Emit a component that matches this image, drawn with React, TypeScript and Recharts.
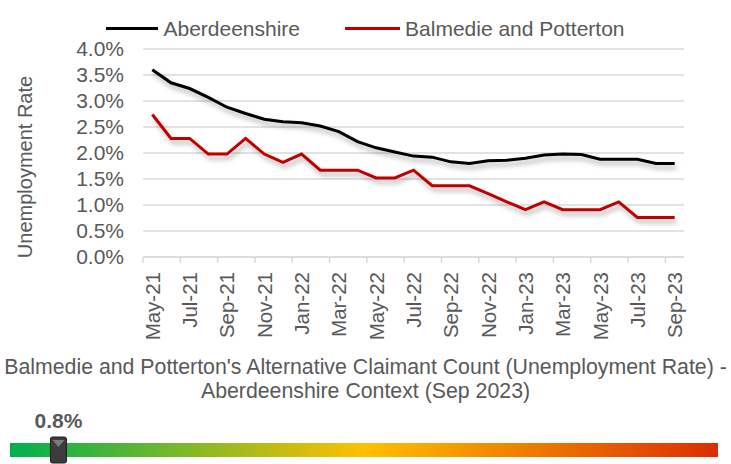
import React from "react";
import { LineChart, Line, XAxis, YAxis, CartesianGrid, Legend, BarChart, Bar, ReferenceDot } from "recharts";

// months shown on the x axis (one point per month)
const months = [
  "May-21", "Jun-21", "Jul-21", "Aug-21", "Sep-21", "Oct-21", "Nov-21", "Dec-21",
  "Jan-22", "Feb-22", "Mar-22", "Apr-22", "May-22", "Jun-22", "Jul-22", "Aug-22",
  "Sep-22", "Oct-22", "Nov-22", "Dec-22", "Jan-23", "Feb-23", "Mar-23", "Apr-23",
  "May-23", "Jun-23", "Jul-23", "Aug-23", "Sep-23",
];

// unemployment rate, %
const aberdeenshire = [
  3.6, 3.35, 3.24, 3.07, 2.88, 2.76, 2.65, 2.6, 2.58, 2.52, 2.41, 2.22, 2.1, 2.02, 1.94,
  1.92, 1.83, 1.8, 1.85, 1.86, 1.9, 1.96, 1.98, 1.97, 1.88, 1.88, 1.88, 1.8, 1.8,
];
const balmedie = [
  2.74, 2.28, 2.28, 1.98, 1.98, 2.28, 1.98, 1.82, 1.98, 1.67, 1.67, 1.67, 1.52, 1.52, 1.67,
  1.37, 1.37, 1.37, 1.22, 1.06, 0.91, 1.06, 0.91, 0.91, 0.91, 1.06, 0.76, 0.76, 0.76,
];

const yTicks = [0, 0.5, 1, 1.5, 2, 2.5, 3, 3.5, 4];
const xTicks = months.map((_, i) => i).filter((i) => i % 2 === 0);

// context gauge (Sep 2023)
const latestValue = 0.76;
const latestLabel = "0.8%";
const gaugeMin = 0.5;
const gaugeMax = 4.3;

const FONT = '"Liberation Sans", Arial, sans-serif';
const GREY = "#595959";
const GRID = "#d9d9d9";

const CHART_W = 731;
const Y_AXIS_W = 143;
const MARGIN_RIGHT = 47;
const PLOT_W = CHART_W - Y_AXIS_W - MARGIN_RIGHT;

const chartData = months.map((m, i) => ({
  idx: i,
  month: m,
  aberdeenshire: aberdeenshire[i],
  balmedie: balmedie[i],
}));

const seriesInfo = [
  { name: "Aberdeenshire", color: "#000000" },
  { name: "Balmedie and Potterton", color: "#c00000" },
];

// tick mark sits on the category boundary, label on the point (Excel style)
const XTick = (props: any) => {
  const { x, y, payload } = props;
  const step = PLOT_W / months.length;
  const tx = x - step / 2;
  const ly = y + 15;
  return (
    <g>
      <line x1={tx} y1={y} x2={tx} y2={y + 6} stroke={GRID} strokeWidth={1.5} />
      <text
        x={x}
        y={ly}
        transform={`rotate(-90 ${x} ${ly})`}
        textAnchor="end"
        dominantBaseline="central"
        fill={GREY}
        fontSize={20.5}
        fontFamily={FONT}
      >
        {months[payload.value]}
      </text>
    </g>
  );
};

const YLabel = (props: any) => {
  const vb = props.viewBox || { x: 0, y: 49, width: 143, height: 208 };
  const cx = vb.x + 25;
  const cy = vb.y + vb.height / 2 + 14;
  return (
    <text
      x={cx}
      y={cy}
      transform={`rotate(-90 ${cx} ${cy})`}
      textAnchor="middle"
      dominantBaseline="central"
      fill={GREY}
      fontSize={20}
      fontFamily={FONT}
    >
      Unemployment Rate
    </text>
  );
};

const LegendContent = () => (
  <div
    style={{
      height: 44,
      paddingTop: 3,
      boxSizing: "border-box",
      display: "flex",
      justifyContent: "center",
      fontFamily: FONT,
      fontSize: 21,
      color: GREY,
      lineHeight: "24px",
    }}
  >
    {seriesInfo.map((s, i) => (
      <div key={s.name} style={{ display: "flex", alignItems: "center", marginLeft: i ? 45 : 0 }}>
        <div style={{ width: i ? 55 : 52, height: 3, background: s.color, marginRight: 5 }} />
        <span>{s.name}</span>
      </div>
    ))}
  </div>
);

const GaugeMarker = (props: any) => {
  const { cx, cy } = props;
  return (
    <g>
      <text
        x={cx}
        y={cy - 30}
        textAnchor="middle"
        dominantBaseline="central"
        fontWeight="bold"
        fontSize={21}
        fontFamily={FONT}
        fill={GREY}
      >
        {latestLabel}
      </text>
      <rect x={cx - 8} y={cy - 13} width={16} height={26} rx={2} fill="#3c3c3c" stroke="#1e1e1e" strokeWidth={1} />
      <path d={`M${cx - 6},${cy - 10} L${cx + 6},${cy - 10} L${cx},${cy - 3} Z`} fill="#7a7a7a" />
    </g>
  );
};

export default function App() {
  return (
    <div style={{ position: "absolute", left: 0, top: 0, width: CHART_W, height: 464, background: "#fff", overflow: "hidden" }}>
      <LineChart
        width={CHART_W}
        height={345}
        data={chartData}
        margin={{ top: 5, right: MARGIN_RIGHT, left: 0, bottom: 0 }}
      >
        <defs>
          <filter id="lineShadow" x="-5%" y="-20%" width="110%" height="160%">
            <feDropShadow dx={2} dy={4} stdDeviation={2.5} floodColor="#000" floodOpacity={0.3} />
          </filter>
        </defs>
        <Legend verticalAlign="top" content={LegendContent} wrapperStyle={{ left: 0, width: CHART_W }} />
        <CartesianGrid vertical={false} stroke={GRID} strokeWidth={1.5} />
        <XAxis
          dataKey="idx"
          type="number"
          domain={[-0.5, months.length - 0.5]}
          ticks={xTicks}
          interval={0}
          height={88}
          tickSize={0}
          tickMargin={0}
          tickLine={false}
          axisLine={{ stroke: GRID, strokeWidth: 1.5 }}
          tick={<XTick />}
        />
        <YAxis
          width={Y_AXIS_W}
          domain={[0, 4]}
          ticks={yTicks}
          interval={0}
          tickFormatter={(v: number) => `${v.toFixed(1)}%`}
          tickSize={0}
          tickMargin={19}
          tickLine={false}
          axisLine={false}
          tick={{ fill: GREY, fontSize: 21, fontFamily: FONT }}
          label={{ content: YLabel }}
        />
        <Line
          type="linear"
          dataKey="aberdeenshire"
          name={seriesInfo[0].name}
          stroke={seriesInfo[0].color}
          strokeWidth={3}
          dot={false}
          filter="url(#lineShadow)"
          isAnimationActive={false}
        />
        <Line
          type="linear"
          dataKey="balmedie"
          name={seriesInfo[1].name}
          stroke={seriesInfo[1].color}
          strokeWidth={3}
          dot={false}
          filter="url(#lineShadow)"
          isAnimationActive={false}
        />
      </LineChart>

      <div
        style={{
          position: "absolute",
          left: 0,
          top: 355,
          width: CHART_W,
          textAlign: "center",
          fontFamily: FONT,
          fontSize: 21.3,
          lineHeight: "24px",
          color: GREY,
          whiteSpace: "nowrap",
        }}
      >
        Balmedie and Potterton's Alternative Claimant Count (Unemployment Rate) -
        <br />
        Aberdeenshire Context (Sep 2023)
      </div>

      <div style={{ position: "absolute", left: 0, top: 404 }}>
        <BarChart
          width={CHART_W}
          height={60}
          layout="vertical"
          data={[{ name: "gauge", max: gaugeMax }]}
          margin={{ top: 32, right: 13, bottom: 0, left: 10 }}
        >
          <defs>
            <linearGradient id="gaugeGrad" x1="0" y1="0" x2="1" y2="0">
              <stop offset="0%" stopColor="#00b050" />
              <stop offset="50%" stopColor="#ffc000" />
              <stop offset="100%" stopColor="#dc2d00" />
            </linearGradient>
          </defs>
          <XAxis type="number" domain={[gaugeMin, gaugeMax]} hide allowDataOverflow />
          <YAxis type="category" dataKey="name" hide />
          <Bar dataKey="max" fill="url(#gaugeGrad)" barSize={14} isAnimationActive={false} />
          <ReferenceDot x={latestValue} y="gauge" shape={GaugeMarker} />
        </BarChart>
      </div>
    </div>
  );
}
